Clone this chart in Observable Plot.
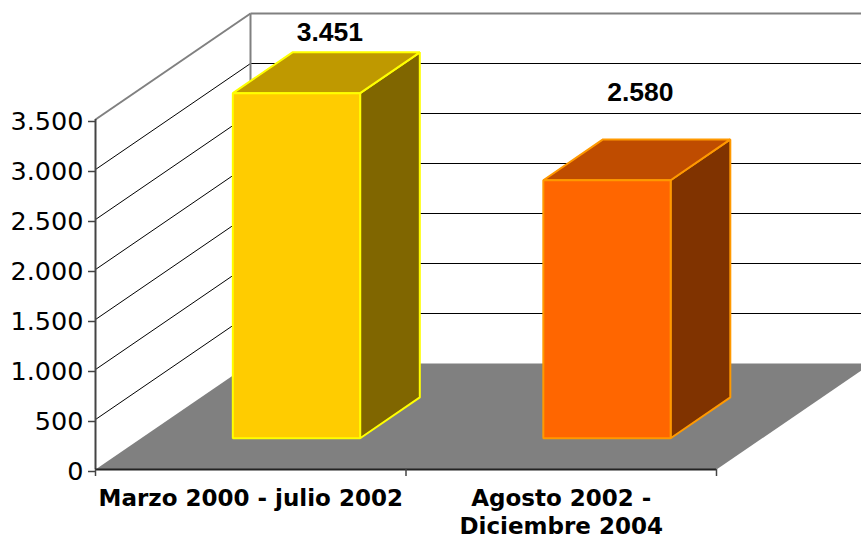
<!DOCTYPE html>
<html>
<head>
<meta charset="utf-8">
<script src="https://cdn.jsdelivr.net/npm/d3@7"></script>
<script src="https://cdn.jsdelivr.net/npm/@observablehq/plot@0.6"></script>
<style>
  html, body { margin: 0; padding: 0; background: #ffffff; }
  #chart svg { display: block; }
</style>
</head>
<body>
<div id="chart"></div>
<script>
// ---- data ----
const categories = ["Marzo 2000 - julio 2002", "Agosto 2002 -\nDiciembre 2004"];
const values = [3451, 2580];
const valueLabels = ["3.451", "2.580"];
const yTicks = [0, 500, 1000, 1500, 2000, 2500, 3000, 3500];
const yTickLabels = ["0", "500", "1.000", "1.500", "2.000", "2.500", "3.000", "3.500"];
const frontColors = ["#FFCC00", "#FF6600"];
const topColors = ["#BF9900", "#BF4C00"];
const sideColors = ["#806600", "#803300"];
const edgeColors = ["#FFFF00", "#FF9900"];

// ---- layout / pseudo-3D geometry ----
const W = 861, H = 539;
const mL = 95, mR = 145, mT = 119, mB = 70;
const yMax = 3500;
const pxPerX = (W - mL - mR) / categories.length;
const pxPerY = (H - mT - mB) / yMax;
const DX = 155 / pxPerX;      // full depth in x units
const DY = 106 / pxPerY;      // full depth in y units
const proj = (x, y, d) => ({x: x + d * DX, y: y + d * DY});
const D1 = 0.295, D2 = 0.68, HALF = 0.205;

const poly = (pts, fill, stroke, sw) =>
  Plot.line(pts, {x: "x", y: "y", fill, stroke: stroke || "none", strokeWidth: sw || 0,
    curve: "linear-closed", strokeLinejoin: "miter", strokeLinecap: "butt"});

const n = categories.length;
const marks = [];

// floor
marks.push(poly([proj(0,0,0), proj(n,0,0), proj(n,0,1), proj(0,0,1)], "#808080"));

// back wall & side wall gridlines
const inner = yTicks.filter(v => v > 0 && v < yMax);
marks.push(Plot.link(inner, {
  x1: () => proj(0,0,1).x, x2: () => proj(n + 0.2,0,1).x,
  y1: v => proj(0,v,1).y, y2: v => proj(0,v,1).y,
  stroke: "#000", strokeWidth: 1
}));
marks.push(Plot.link(inner, {
  x1: () => 0, x2: () => DX,
  y1: v => v, y2: v => v + DY,
  stroke: "#000", strokeWidth: 1
}));
// top edges and back corner (grey)
marks.push(Plot.link([yMax], {
  x1: () => proj(0,0,1).x, x2: () => proj(n + 0.2,0,1).x,
  y1: v => proj(0,v,1).y, y2: v => proj(0,v,1).y,
  stroke: "#808080", strokeWidth: 2
}));
marks.push(Plot.link([yMax], {
  x1: () => 0, x2: () => DX, y1: v => v, y2: v => v + DY,
  stroke: "#808080", strokeWidth: 2
}));
marks.push(Plot.link([yMax], {
  x1: () => DX, x2: () => DX, y1: () => DY, y2: v => v + DY,
  stroke: "#808080", strokeWidth: 2
}));

// front left axis line
marks.push(Plot.ruleX([0], {y1: 0, y2: yMax, stroke: "#444", strokeWidth: 2}));

// bars
values.forEach((v, i) => {
  const c = i + 0.5;
  const x0 = c - HALF, x1 = c + HALF;
  // side
  marks.push(poly([proj(x1,0,D1), proj(x1,v,D1), proj(x1,v,D2), proj(x1,0,D2)],
    sideColors[i], edgeColors[i], 2));
  // top
  marks.push(poly([proj(x0,v,D1), proj(x1,v,D1), proj(x1,v,D2), proj(x0,v,D2)],
    topColors[i], edgeColors[i], 2));
  // front
  marks.push(poly([proj(x0,0,D1), proj(x1,0,D1), proj(x1,v,D1), proj(x0,v,D1)],
    frontColors[i], edgeColors[i], 2));
});

// bottom axis line
marks.push(Plot.ruleY([0], {x1: 0, x2: n, stroke: "#222", strokeWidth: 2}));

// axes
marks.push(Plot.axisY({
  ticks: yTicks,
  tickFormat: v => yTickLabels[yTicks.indexOf(v)],
  tickSize: 7, tickPadding: 5, fontSize: 25.5, stroke: "#444", strokeWidth: 1.5,
  fill: "#000", label: null, dy: 2
}));
marks.push(Plot.axisX({
  ticks: d3.range(n + 1), tickFormat: () => "", tickSize: 7,
  stroke: "#444", strokeWidth: 1.5, label: null
}));

// category labels
marks.push(Plot.text(categories, {
  x: (d, i) => i + 0.5, y: () => 0, text: d => d,
  dy: 17, lineAnchor: "top", lineHeight: 1.22,
  fontSize: 23, fontWeight: "bold", fill: "#000", textAnchor: "middle"
}));

// value labels
const labelCap = (H - mB - 32) / pxPerY;
marks.push(Plot.text(values, {
  x: (d, i) => i + 0.5 + 0.51 * DX,
  y: v => Math.min(v + 0.49 * DY + 67 / pxPerY, labelCap),
  text: (d, i) => valueLabels[i],
  fontSize: 26.5, fontWeight: "bold", fontFamily: "Liberation Sans, Arial, sans-serif",
  fill: "#000", textAnchor: "middle"
}));

const chart = Plot.plot({
  width: W, height: H,
  marginLeft: mL, marginRight: mR, marginTop: mT, marginBottom: mB,
  x: {domain: [0, n], axis: null},
  y: {domain: [0, yMax], axis: null},
  style: {fontFamily: "DejaVu Sans, Verdana, sans-serif", background: "#ffffff", overflow: "hidden"},
  marks
});
document.getElementById("chart").appendChild(chart);
</script>
</body>
</html>
